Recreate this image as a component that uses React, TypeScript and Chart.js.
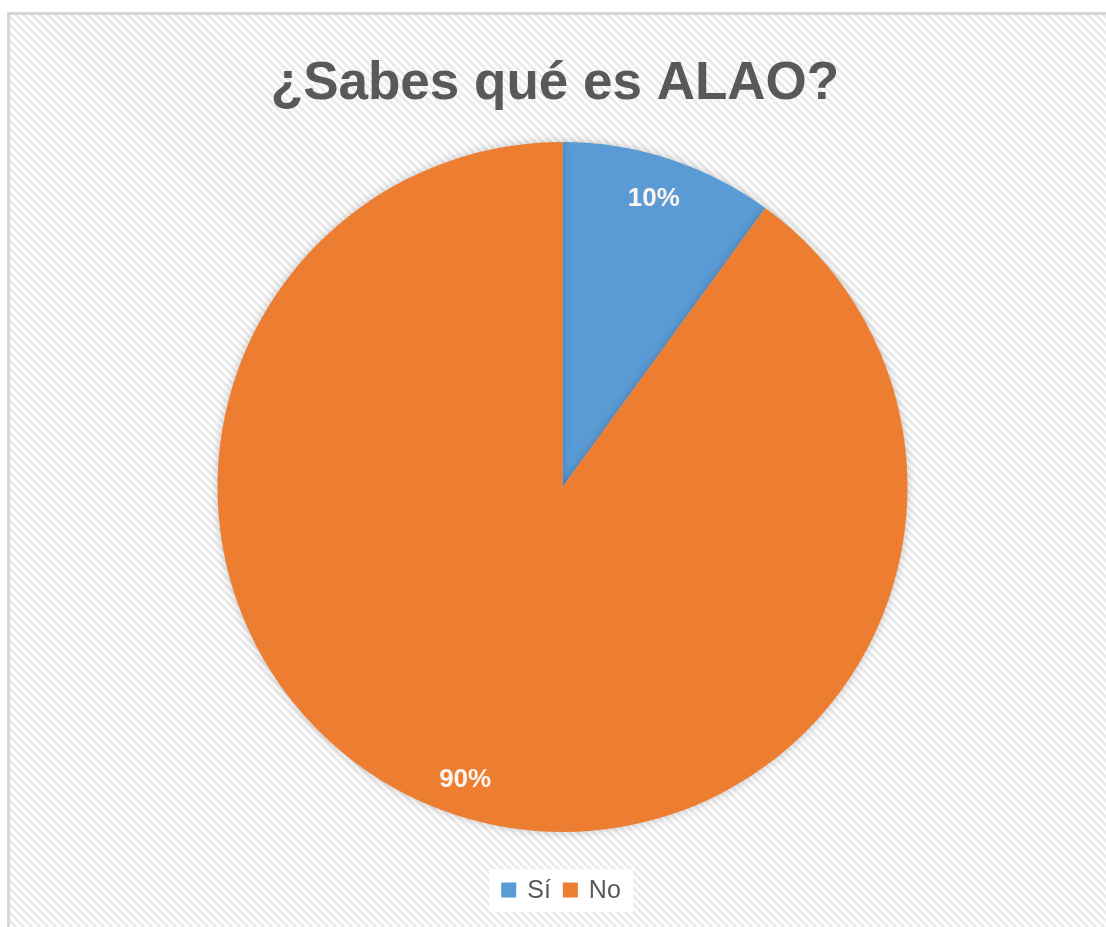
import React, { useEffect, useRef } from "react";
import { Chart, registerables } from "chart.js";

Chart.register(...registerables);

const chartTitle = "¿Sabes qué es ALAO?";
const categories = ["Sí", "No"];
const values = [10, 90];
const sliceColors = ["#5b9bd5", "#ed7d31"];

const W = 1106;
const H = 927;
const FONT = "'Liberation Sans', Arial, sans-serif";

const backgroundPlugin = {
  id: "hatchBackground",
  beforeDraw(chart: any) {
    const ctx = chart.ctx;
    ctx.save();
    ctx.fillStyle = "#ffffff";
    ctx.fillRect(0, 0, W, H);
    const fx = 9, fy = 13;
    ctx.beginPath();
    ctx.rect(fx, fy, W - fx, H - fy);
    ctx.clip();
    ctx.strokeStyle = "#ebebeb";
    ctx.lineWidth = 3;
    for (let x = -H; x < W + H; x += 8) {
      ctx.beginPath();
      ctx.moveTo(x, 0);
      ctx.lineTo(x + H, H);
      ctx.stroke();
    }
    ctx.restore();
    // frame border
    ctx.save();
    ctx.fillStyle = "#d6d6d6";
    ctx.fillRect(7, 12, W - 7, 3);
    ctx.fillRect(7, 12, 3, H - 12);
    ctx.restore();
    // title
    ctx.save();
    ctx.fillStyle = "#595959";
    ctx.font = "bold 53px " + FONT;
    ctx.textAlign = "center";
    ctx.textBaseline = "alphabetic";
    ctx.fillText(chartTitle, 555, 99);
    ctx.restore();
    // legend (custom, from dataset labels & colours)
    ctx.save();
    ctx.font = "25px " + FONT;
    const box = 15, gapBoxText = 11, gapItems = 12;
    const widths = categories.map((c) => ctx.measureText(c).width);
    let total = 0;
    widths.forEach((w, i) => {
      total += box + gapBoxText + w + (i < widths.length - 1 ? gapItems : 0);
    });
    const cx = 561, cy = 890;
    let x = cx - total / 2;
    ctx.fillStyle = "#ffffff";
    ctx.fillRect(x - 12, cy - 21, total + 24, 43);
    ctx.textBaseline = "middle";
    ctx.textAlign = "left";
    categories.forEach((c, i) => {
      ctx.fillStyle = sliceColors[i];
      ctx.fillRect(x, cy - box / 2, box, box);
      x += box + gapBoxText;
      ctx.fillStyle = "#595959";
      ctx.fillText(c, x, cy + 1);
      x += widths[i] + gapItems;
    });
    ctx.restore();
  },
  beforeDatasetsDraw(chart: any) {
    const ctx = chart.ctx;
    ctx.save();
    ctx.shadowColor = "rgba(0,0,0,0.22)";
    ctx.shadowBlur = 10;
    ctx.shadowOffsetX = 0;
    ctx.shadowOffsetY = 0;
  },
  afterDatasetsDraw(chart: any) {
    const ctx = chart.ctx;
    ctx.restore();
    const meta = chart.getDatasetMeta(0);
    const data = chart.data.datasets[0].data as number[];
    const sum = data.reduce((a, b) => a + b, 0);
    ctx.save();
    ctx.fillStyle = "#fdf6ee";
    ctx.font = "bold 26px " + FONT;
    ctx.textAlign = "center";
    ctx.textBaseline = "middle";
    meta.data.forEach((arc: any, i: number) => {
      const { x, y, startAngle, endAngle, outerRadius } = arc.getProps(
        ["x", "y", "startAngle", "endAngle", "outerRadius"],
        true
      );
      const mid = (startAngle + endAngle) / 2;
      const r = outerRadius * 0.885;
      const pct = Math.round((data[i] / sum) * 100) + "%";
      ctx.fillText(pct, x + Math.cos(mid) * r - 3, y + Math.sin(mid) * r + 2);
    });
    ctx.restore();
  },
};

export default function App() {
  const ref = useRef<HTMLCanvasElement | null>(null);
  useEffect(() => {
    if (!ref.current) return;
    const chart = new Chart(ref.current, {
      type: "pie",
      data: {
        labels: categories,
        datasets: [
          {
            data: values,
            backgroundColor: sliceColors,
            borderColor: "#ffffff",
            borderWidth: 0,
            radius: 345,
          } as any,
        ],
      },
      options: {
        responsive: false,
        animation: false,
        layout: { padding: { top: 142, left: 19, right: 0, bottom: 95 } },
        plugins: {
          title: { display: false },
          tooltip: { enabled: false },
          legend: { display: false },
        },
      },
      plugins: [backgroundPlugin],
    });
    return () => chart.destroy();
  }, []);
  return (
    <div style={{ position: "absolute", left: 0, top: 0, width: W, height: H, overflow: "hidden" }}>
      <canvas ref={ref} width={W} height={H} style={{ display: "block" }} />
    </div>
  );
}
